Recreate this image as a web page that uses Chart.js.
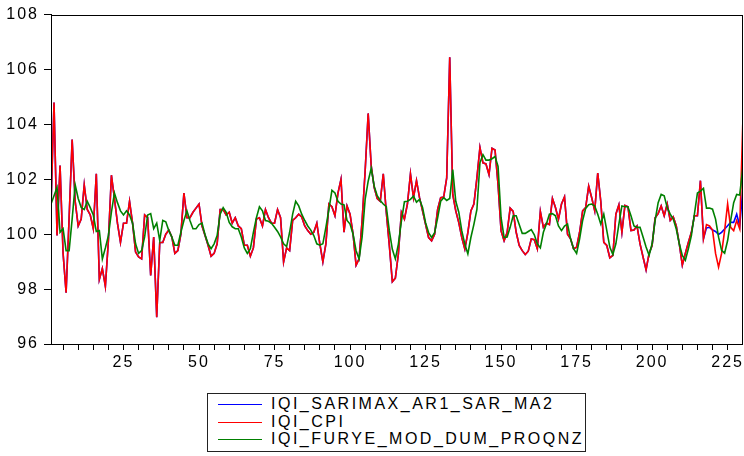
<!DOCTYPE html>
<html><head><meta charset="utf-8">
<script src="https://cdn.jsdelivr.net/npm/chart.js@4.4.1/dist/chart.umd.min.js"></script>
<style>
html,body{margin:0;padding:0;background:#fff;}
#wrap{position:relative;width:744px;height:456px;overflow:hidden;}
#legend{position:absolute;left:207px;top:393px;width:379px;height:59px;border:1px solid #222;box-sizing:border-box;font-family:"Liberation Sans",Arial,sans-serif;font-size:16px;letter-spacing:2.5px;color:#000;background:#fff;}
.row{position:absolute;left:0;height:18px;line-height:18px;white-space:nowrap;}
.swatch{position:absolute;left:10px;top:9px;width:44px;height:0;border-top:1px solid;}
.lbl{position:absolute;left:63px;top:0;}
</style></head>
<body><div id="wrap"><canvas id="c" width="744" height="456"></canvas><div id="legend"></div></div>
<script>
const obs = Array.from({length: 230}, (_, i) => i + 1);
const seriesNames = ["IQI_SARIMAX_AR1_SAR_MA2", "IQI_CPI", "IQI_FURYE_MOD_DUM_PROQNZ"];
const seriesColors = ["#0000ff", "#ff0000", "#008000"];
const yTicks = [96, 98, 100, 102, 104, 106, 108];
const xTicks = [5,10,15,20,25,30,35,40,45,50,55,60,65,70,75,80,85,90,95,100,105,110,115,120,125,130,135,140,145,150,155,160,165,170,175,180,185,190,195,200,205,210,215,220,225];
const xTickLabels = [25, 50, 75, 100, 125, 150, 175, 200, 225];

const iqiCpi = [
101.0,104.8,99.95,102.5,99.3,97.87,100.6,103.45,101.2,100.3,
100.55,101.8,100.9,100.7,100.2,102.2,98.35,98.75,98.1,99.77,
102.15,101.3,100.4,99.7,100.4,100.4,101.2,100.4,99.35,99.17,
99.1,100.7,100.6,98.5,99.9,96.98,99.7,99.7,100.0,100.15,
99.9,99.3,99.4,100.0,101.5,100.6,100.6,100.8,100.95,101.1,
100.3,99.95,99.6,99.2,99.3,99.65,100.9,100.9,100.7,100.8,
100.4,100.6,100.3,100.2,99.6,99.6,99.2,99.5,100.55,100.6,
100.3,100.9,100.6,100.4,100.4,100.9,100.6,98.99,99.5,99.4,
100.5,100.6,100.73,100.63,100.3,100.13,100.0,100.07,100.4,99.65,
98.99,99.65,101.1,101.0,100.67,101.5,102.0,100.07,101.03,100.73,
100.0,98.87,99.1,100.5,102.3,104.4,102.5,101.7,101.3,101.2,
102.2,100.8,99.6,98.27,98.4,99.28,100.8,100.55,101.1,102.2,
101.33,101.95,101.33,100.85,100.36,99.88,99.76,100.0,100.9,101.33,
101.35,102.05,106.45,101.45,100.85,100.42,99.88,99.46,100.06,100.85,
101.1,102.05,103.16,102.6,102.56,102.17,103.13,103.07,101.8,100.12,
99.76,100.06,100.95,100.83,100.07,99.59,99.4,99.26,99.38,99.83,
99.8,99.47,100.83,100.25,100.4,100.35,101.3,100.97,100.55,101.1,
101.36,100.0,99.83,99.47,99.53,100.07,100.85,100.97,101.75,101.33,
100.85,102.23,101.2,99.7,99.59,99.14,99.23,100.73,101.07,100.07,
101.05,101.0,100.13,100.15,100.3,99.65,99.17,98.7,99.3,99.59,
100.6,100.75,101.03,100.67,101.1,100.5,100.63,100.3,99.65,98.87,
99.3,99.7,100.07,100.67,100.67,101.95,99.83,100.35,100.3,100.15,
99.3,98.8,99.3,100.13,101.1,100.25,100.13,100.5,100.2,104.0];

const iqiSarimax = [
101.0,104.8,99.95,102.5,99.3,97.87,100.6,103.45,101.2,100.3,
100.55,101.8,100.9,100.7,100.2,102.2,98.35,98.75,98.1,99.77,
102.15,101.3,100.4,99.7,100.4,100.4,101.2,100.4,99.35,99.17,
99.1,100.7,100.6,98.5,99.9,96.98,99.7,99.7,100.0,100.15,
99.9,99.3,99.4,100.0,101.5,100.6,100.6,100.8,100.95,101.1,
100.3,99.95,99.6,99.2,99.3,99.65,100.9,100.9,100.7,100.8,
100.4,100.6,100.3,100.2,99.6,99.6,99.2,99.5,100.55,100.6,
100.3,100.9,100.6,100.4,100.4,100.9,100.6,98.99,99.5,99.4,
100.5,100.6,100.73,100.63,100.3,100.13,100.0,100.07,100.4,99.65,
98.99,99.65,101.1,101.0,100.67,101.5,102.0,100.07,101.03,100.73,
100.0,98.87,99.1,100.5,102.3,104.4,102.5,101.7,101.3,101.2,
102.2,100.8,99.6,98.27,98.4,99.28,100.8,100.55,101.1,102.2,
101.33,101.95,101.33,100.85,100.36,99.88,99.76,100.0,100.9,101.33,
101.35,102.05,106.45,101.45,100.85,100.42,99.88,99.46,100.06,100.85,
101.1,102.05,103.16,102.6,102.56,102.17,103.13,103.07,101.8,100.12,
99.76,100.06,100.95,100.83,100.07,99.59,99.4,99.26,99.38,99.83,
99.8,99.47,100.83,100.25,100.4,100.35,101.3,100.97,100.55,101.1,
101.36,100.0,99.83,99.47,99.53,100.07,100.85,100.97,101.75,101.33,
100.85,102.23,101.2,99.7,99.59,99.14,99.23,100.73,101.07,100.07,
101.05,101.0,100.13,100.15,100.3,99.65,99.17,98.7,99.3,99.59,
100.6,100.75,101.03,100.67,101.1,100.5,100.63,100.3,99.65,98.87,
99.3,99.7,100.07,100.67,100.67,101.95,99.83,100.23,100.25,100.15,
100.1,99.99,100.07,100.19,100.31,100.43,100.43,100.73,100.3,101.6];

const iqiFurye = [
101.1,101.4,101.7,100.07,100.2,99.4,99.4,100.55,101.8,101.3,
100.97,100.9,101.2,100.97,100.7,100.1,100.13,99.1,99.5,99.95,
100.8,101.5,101.15,100.85,100.7,100.85,100.7,100.4,99.65,99.3,
99.4,99.9,100.7,100.75,100.2,100.4,99.77,100.5,100.45,100.13,
99.9,99.6,99.6,100.07,100.5,100.85,100.5,100.2,100.2,100.35,
100.4,99.98,99.65,99.47,99.65,99.95,100.73,100.97,100.8,100.43,
100.27,100.2,100.2,99.9,99.5,99.3,99.47,100.07,100.6,101.0,
100.85,100.5,100.47,100.4,100.25,100.1,99.9,99.65,99.55,100.07,
100.73,101.2,101.03,100.73,100.5,100.3,100.15,99.95,99.65,99.6,
99.65,100.25,100.9,101.6,101.5,101.2,101.1,101.07,100.5,100.37,
100.0,99.4,99.1,99.9,101.27,101.93,102.4,101.75,101.4,101.23,
101.1,101.0,100.13,99.45,99.1,99.64,100.48,101.18,101.2,101.27,
101.39,101.17,101.27,100.97,100.42,100.06,99.88,100.06,100.6,101.2,
101.33,101.23,101.3,102.35,101.2,100.8,100.12,99.64,99.28,99.88,
100.36,100.9,102.6,102.9,102.7,102.7,102.75,102.83,102.47,100.6,
99.88,99.9,100.25,100.67,100.67,100.35,100.03,100.03,100.1,100.17,
99.98,99.65,99.5,100.07,100.37,100.73,100.75,100.67,100.3,100.13,
100.3,100.37,99.83,99.47,99.3,99.83,100.5,100.94,101.07,101.1,
101.03,100.73,100.37,100.73,100.13,99.53,99.26,99.65,100.37,101.03,
101.0,101.0,100.67,100.3,100.25,100.25,99.9,99.53,99.23,99.65,
100.5,101.15,101.45,101.4,100.97,100.73,100.55,100.19,99.65,99.23,
99.05,99.47,99.95,100.73,101.5,101.57,101.67,100.95,100.95,100.91,
100.55,99.89,99.41,99.31,99.77,100.49,101.15,101.45,101.43,102.4];

const seriesValues = [iqiSarimax, iqiCpi, iqiFurye];
const FONT = '"Liberation Sans", Arial, sans-serif';

const framePlugin = {
  id: 'frame',
  beforeDraw(chart) { chart.ctx.letterSpacing = '2px'; },
  afterDraw(chart) {
    const {ctx, chartArea: a} = chart;
    ctx.save();
    ctx.strokeStyle = '#000';
    ctx.lineWidth = 1;
    ctx.strokeRect(Math.round(a.left) + 0.5, Math.round(a.top) + 0.5,
                   Math.round(a.right - a.left) - 1, Math.round(a.bottom - a.top));
    ctx.restore();
  }
};

const chart = new Chart(document.getElementById('c'), {
  type: 'line',
  data: {
    datasets: seriesNames.map((name, k) => ({
      label: name,
      data: obs.map((x, i) => ({x: x, y: seriesValues[k][i]})),
      borderColor: seriesColors[k],
      backgroundColor: seriesColors[k],
      borderWidth: 1.6,
      pointRadius: 0,
      tension: 0,
      fill: false,
      order: 2 - k
    }))
  },
  options: {
    responsive: false,
    devicePixelRatio: 1,
    animation: false,
    events: [],
    layout: {padding: {left: 0, top: 12, right: 1, bottom: 82}},
    plugins: {legend: {display: false}, tooltip: {enabled: false}},
    scales: {
      x: {
        type: 'linear', min: 1, max: 230, offset: false,
        afterFit: s => { s.height = 30; },
        afterBuildTicks: s => { s.ticks = xTicks.map(v => ({value: v})); },
        ticks: {
          autoSkip: false, maxRotation: 0, padding: 3, color: '#000',
          font: {family: FONT, size: 16},
          callback: v => xTickLabels.includes(v) ? String(v) : ''
        },
        grid: {drawOnChartArea: false, drawTicks: true, tickLength: 6, color: '#000', lineWidth: 1},
        border: {display: true, color: '#000', width: 1}
      },
      y: {
        type: 'linear', min: 96, max: 108,
        afterFit: s => { s.width = 51; },
        afterBuildTicks: s => { s.ticks = yTicks.map(v => ({value: v})); },
        ticks: {
          padding: 5, color: '#000',
          font: {family: FONT, size: 16},
          callback: v => String(v)
        },
        grid: {drawOnChartArea: false, drawTicks: true, tickLength: 7, color: '#000', lineWidth: 1},
        border: {display: true, color: '#000', width: 1}
      }
    }
  },
  plugins: [framePlugin]
});

const legend = document.getElementById('legend');
const rowTops = [1, 18.5, 36];
chart.data.datasets.forEach((ds, k) => {
  const row = document.createElement('div');
  row.className = 'row';
  row.style.top = rowTops[k] + 'px';
  const sw = document.createElement('span');
  sw.className = 'swatch';
  sw.style.borderTopColor = ds.borderColor;
  const lb = document.createElement('span');
  lb.className = 'lbl';
  lb.textContent = ds.label;
  row.appendChild(sw); row.appendChild(lb);
  legend.appendChild(row);
});
</script></body></html>
